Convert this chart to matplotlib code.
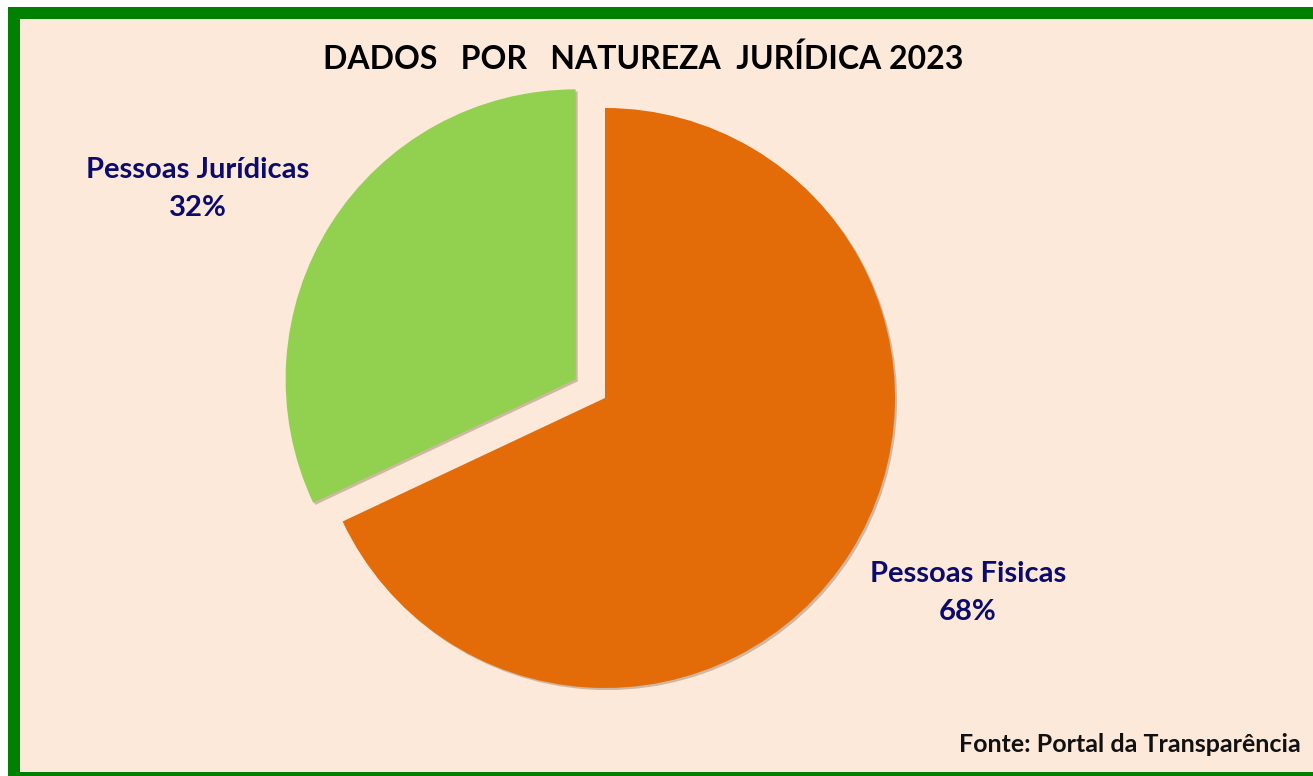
import matplotlib.pyplot as plt
import matplotlib.patheffects as pe
from matplotlib.patches import Rectangle

################################################################################
# Data
################################################################################
CATEGORIES  = ["Pessoas Fisicas", "Pessoas Jurídicas"]
SHARES      = [68, 32]
EXPLODE     = [0.0, 0.12]
COLORS      = ["#E36C09", "#92D050"]

TITLE       = "DADOS   POR   NATUREZA  JURÍDICA 2023"
SOURCE      = "Fonte: Portal da Transparência"

################################################################################
# Figure layout (pixels)
################################################################################
W, H        = 1313, 776
CX, CY      = 605, 398      # pie centre
R           = 290           # pie radius
BG          = "#FDE9D9"
BORDER      = "#008000"
TEXT_NAVY   = "#0B0B6E"
FONT        = ["Lato", "DejaVu Sans"]

plt.rcParams["font.family"] = FONT

fig = plt.figure(figsize=(W / 100, H / 100), dpi=100, facecolor="white")

# green frame with peach fill
frame = Rectangle(
    (14 / W, -2 / H), (W + 20) / W, (H - 13 + 2) / H,
    transform   = fig.transFigure,
    facecolor   = BG,
    edgecolor   = BORDER,
    linewidth   = 12 * 72 / 100,
    zorder      = -10)
fig.patches.append(frame)

ax = fig.add_axes([0, 0, 1, 1])
ax.set_zorder(1)
ax.patch.set_alpha(0)

wedges, _ = ax.pie(
    SHARES,
    explode     = EXPLODE,
    colors      = COLORS,
    startangle  = 90,
    counterclock= False,
    radius      = 1.0)

# pie() resets the limits, so place it afterwards
ax.set_xlim(-CX / R, (W - CX) / R)
ax.set_ylim(-(H - CY) / R, CY / R)
ax.set_aspect("equal")
ax.axis("off")

for w in wedges:
    w.set_path_effects([
        pe.SimplePatchShadow(offset=(1.5, -1.5), shadow_rgbFace="#7a5a40", alpha=0.35),
        pe.Normal()])

# labels
fig.text(198 / W, 1 - 189 / H, f"{CATEGORIES[1]}\n{SHARES[1]}%",
         ha="center", va="center", fontsize=21, fontweight="bold",
         color=TEXT_NAVY, linespacing=1.55, zorder=5)
fig.text(968 / W, 1 - 593 / H, f"{CATEGORIES[0]}\n{SHARES[0]}%",
         ha="center", va="center", fontsize=21, fontweight="bold",
         color=TEXT_NAVY, linespacing=1.55, zorder=5)

fig.text(643 / W, 1 - 59 / H, TITLE, ha="center", va="center",
         fontsize=23, fontweight="bold", color="black", zorder=5)
fig.text(1301 / W, 1 - 745 / H, SOURCE, ha="right", va="center",
         fontsize=18, fontweight="bold", color="#111111", zorder=5)

fig.savefig("out.png", dpi=100, facecolor=fig.get_facecolor())
